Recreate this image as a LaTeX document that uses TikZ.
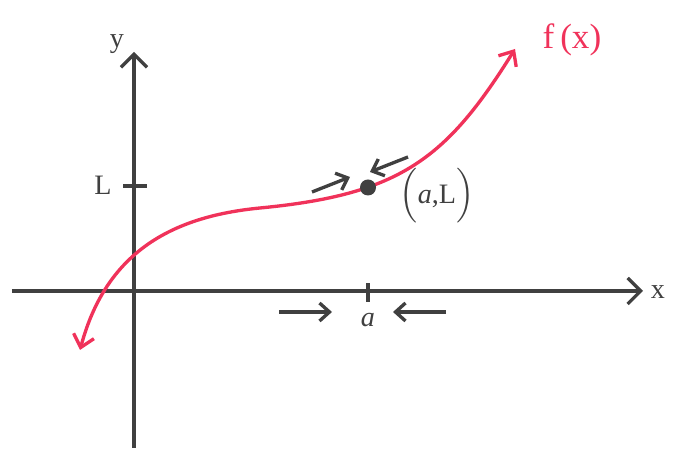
\documentclass[tikz,border=0pt]{standalone}
\usepackage{amsmath}
\usepackage{fontspec}
\setmainfont{Liberation Serif}
\usepackage{tikz}
\usetikzlibrary{arrows.meta,positioning}
\definecolor{curvecol}{RGB}{240,50,90}
\definecolor{axiscol}{RGB}{64,64,64}
\tikzset{
  axis/.style={draw=axiscol,line width=1.9pt,
               -{Straight Barb[length=2.6mm,width=5.2mm]}},
  tickmark/.style={draw=axiscol,line width=1.9pt},
  approach/.style={draw=axiscol,line width=1.9pt,
               -{Straight Barb[length=2mm,width=3.6mm]}},
  fcurve/.style={draw=curvecol,line width=1.9pt,
               {Straight Barb[length=2.4mm,width=4.2mm]}-{Straight Barb[length=2.4mm,width=4.2mm]}},
  lbl/.style={inner sep=0pt,text=axiscol,font=\fontsize{16}{18}\selectfont},
  limpt/.style={circle,fill=axiscol,inner sep=0pt,minimum size=0.32cm},
}
\begin{document}
\begin{tikzpicture}[x=0.02cm,y=0.02cm]
  \useasboundingbox (-134,-174) rectangle (549,291);
  % axes
  \coordinate (xl) at (-122,0);
  \coordinate (xr) at (509,0);
  \coordinate (yb) at (0,-157);
  \coordinate (yt) at (0,239);
  \draw[axis] (xl) -- (xr);
  \draw[axis] (yb) -- (yt);
  \node[lbl] (xlab) at (524,-1) {x};
  \node[lbl] (ylab) at (-17,247) {y};
  % ticks
  \coordinate (ltl) at (-11,105);
  \coordinate (ltr) at (13,105);
  \coordinate (atb) at (234,-11);
  \coordinate (att) at (234,8);
  \draw[tickmark] (ltl) -- (ltr);
  \draw[tickmark] (atb) -- (att);
  \node[lbl] (llab) at (-31,106) {L};
  \node[lbl] (alab) at (234,-29) {\textit{a}};
  % the function
  \coordinate (fstart) at (-54,-59);
  \coordinate (fmid) at (126,83);
  \coordinate (fend) at (381,242);
  \draw[fcurve] (fstart) .. controls (-28.1,37.6) and (36,74.3) .. (fmid)
                         .. controls (265.5,96.4) and (312.1,131.4) .. (fend);
  \node[inner sep=0pt,text=curvecol,font=\fontsize{20}{22}\selectfont]
    (flab) at (438,251) {f\,(x)};
  % limit point
  \node[limpt] (pt) at (234,103.5) {};
  \node[lbl] (ptlab) at (303,95) {$\Bigl(\text{\textit{a}{,}L}\Bigr)$};
  % approaching arrows
  \coordinate (c1s) at (178,99);
  \coordinate (c1e) at (216,114);
  \coordinate (c2s) at (274,134);
  \coordinate (c2e) at (236,119);
  \draw[approach] (c1s) -- (c1e);
  \draw[approach] (c2s) -- (c2e);
  \coordinate (b1s) at (145,-21);
  \coordinate (b1e) at (198,-21);
  \coordinate (b2s) at (312,-21);
  \coordinate (b2e) at (259,-21);
  \draw[approach] (b1s) -- (b1e);
  \draw[approach] (b2s) -- (b2e);
\end{tikzpicture}
\end{document}
